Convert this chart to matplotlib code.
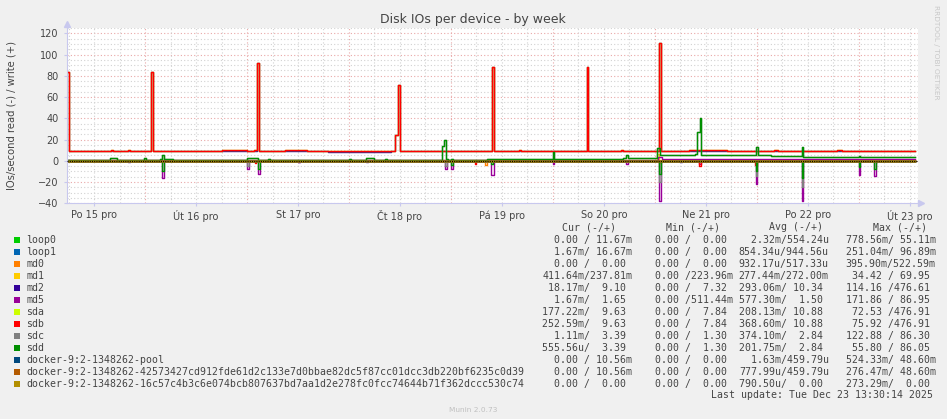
import matplotlib
matplotlib.use('Agg')
import matplotlib.pyplot as plt
from matplotlib.patches import Rectangle

# time axis in hours from Mon 15 Dec 00:00
T0 = -6.4
T_END = 193.4

day_labels = ["Po 15 pro", "Út 16 pro", "St 17 pro", "Čt 18 pro", "Pá 19 pro",
              "So 20 pro", "Ne 21 pro", "Po 22 pro", "Út 23 pro"]
y_ticks = [-40, -20, 0, 20, 40, 60, 80, 100, 120]

# (hour, value) break points, step lines; reads are drawn below zero
zero = [(T0, 0.0)]

md0_read = [(T0, 0), (92.0, 4), (92.4, 0)]

md1_write = [(T0, 0.3), (108.0, 1.5), (108.4, 0.3), (132.6, 6), (133.0, 0.8)]
md1_read = [(T0, 0), (133.0, 2), (133.4, 0)]

md2_write = [(T0, 84), (-5.9, 9.2), (13.4, 84), (13.9, 9.2), (38.4, 92), (38.8, 9.2),
             (55.0, 8.6), (70.0, 8.8), (70.9, 24), (71.6, 71), (72.1, 9.0),
             (93.6, 88), (94.1, 9.2), (116.0, 88), (116.4, 9.2), (133.1, 111),
             (133.5, 9.2), (150.0, 8.9), (152.0, 9.2), (172.0, 8.9), (174.0, 9.2)]
md2_read = [(T0, 0), (8.0, 1), (8.4, 0), (48.0, 1), (48.4, 0), (64.0, 1), (64.4, 0),
            (138.0, 1), (138.4, 0), (184.0, 1), (184.4, 0)]

md5_write = [(T0, 0.7), (132.8, 4), (133.6, 1.8)]
md5_read = [(T0, 0), (16.0, 16), (16.5, 0), (36.0, 8), (36.4, 0), (38.6, 12), (39.0, 0),
            (48.0, 1), (48.5, 0), (82.6, 8), (83.0, 0), (84.0, 8), (84.4, 0),
            (93.4, 13), (94.2, 0), (108.0, 3), (108.4, 0), (125.2, 3), (125.8, 0),
            (133.1, 38), (133.5, 0), (142.4, 3), (142.9, 0), (155.8, 22), (156.2, 0),
            (166.6, 38), (167.0, 0), (180.0, 13), (180.4, 0), (183.6, 14), (184.0, 0)]

sdb_write = [(T0, 84), (-5.9, 9.3), (4.0, 9.9), (4.5, 9.3), (8.0, 9.9), (8.5, 9.3),
             (13.4, 84), (13.9, 9.5), (30.0, 9.9), (36.0, 9.5), (37.6, 10.2),
             (38.4, 92), (38.8, 9.5), (45.0, 10.0), (50.0, 9.5), (56.0, 9.0),
             (70.9, 24), (71.6, 71), (72.1, 9.2), (76.0, 9.6), (84.0, 9.2), (88.0, 9.6),
             (93.6, 88), (94.1, 9.4), (100.0, 9.9), (100.5, 9.4), (116.0, 88),
             (116.4, 9.4), (124.0, 9.9), (124.5, 9.4), (133.1, 111), (133.5, 9.6),
             (140.0, 9.9), (148.0, 10.3), (149.0, 9.6), (160.0, 10.0), (161.0, 9.6),
             (175.0, 9.9), (176.0, 9.6)]
sdb_read = [(T0, 0), (37.8, 2), (38.2, 0), (89.6, 3), (90.0, 0), (142.4, 5), (142.9, 0),
            (155.6, 4), (156.0, 0)]

sdd_write = [(T0, 1.0), (3.8, 2.2), (5.4, 1.0), (11.8, 2.2), (12.2, 1.0), (15.6, 2.0),
             (16.0, 5), (16.5, 2.0), (18.6, 1.0), (36.0, 2.2), (38.5, 1.0), (41.0, 2.0),
             (41.4, 1.0), (60.0, 2.0), (60.4, 1.0), (64.0, 2.2), (65.8, 1.0), (68.6, 2.0),
             (69.0, 1.0), (82.0, 14), (82.4, 20), (82.8, 2.0), (83.4, 1.0), (84.0, 2.0),
             (84.6, 1.0), (92.5, 2.0), (108.0, 8), (108.4, 2.0), (124.6, 3.0),
             (125.2, 5), (125.8, 3.0), (128.0, 2.8), (132.6, 12), (133.2, 5.5),
             (141.6, 6.5), (142.0, 27), (142.6, 40), (143.0, 5.2), (155.8, 13),
             (156.3, 5.2), (159.5, 4.4), (166.6, 13), (167.0, 4.0), (180.0, 4.6),
             (180.4, 4.0)]
sdd_read = [(T0, 0), (16.0, 10), (16.5, 0), (38.6, 8), (39.0, 0), (84.0, 4), (84.4, 0),
            (93.4, 3), (93.8, 0), (133.1, 12), (133.5, 0), (155.8, 10), (156.2, 0),
            (166.6, 16), (167.0, 0), (180.0, 6), (180.4, 0), (183.6, 8), (184.0, 0)]

sdc_read = [(T0, 0), (36.0, 5), (36.4, 0), (82.6, 5), (83.0, 0), (133.1, 20), (133.5, 0),
            (155.8, 14), (156.2, 0), (166.6, 25), (167.0, 0)]

# legend
names = ["loop0", "loop1", "md0", "md1", "md2", "md5", "sda", "sdb", "sdc", "sdd",
         "docker-9:2-1348262-pool",
         "docker-9:2-1348262-42573427cd912fde61d2c133e7d0bbae82dc5f87cc01dcc3db220bf6235c0d39",
         "docker-9:2-1348262-16c57c4b3c6e074bcb807637bd7aa1d2e278fc0fcc74644b71f362dccc530c74"]
colors = ["#00CC00", "#0066B3", "#FF8000", "#FFCC00", "#330099", "#990099", "#CCFF00",
          "#FF0000", "#808080", "#008F00", "#00487D", "#B35A00", "#B38F00"]
cur = ["  0.00 / 11.67m", "  1.67m/ 16.67m", "  0.00 /  0.00 ", "411.64m/237.81m",
       " 18.17m/  9.10 ", "  1.67m/  1.65 ", "177.22m/  9.63 ", "252.59m/  9.63 ",
       "  1.11m/  3.39 ", "555.56u/  3.39 ", "  0.00 / 10.56m", "  0.00 / 10.56m",
       "  0.00 /  0.00 "]
mins = ["  0.00 /  0.00 ", "  0.00 /  0.00 ", "  0.00 /  0.00 ", "  0.00 /223.96m",
        "  0.00 /  7.32 ", "  0.00 /511.44m", "  0.00 /  7.84 ", "  0.00 /  7.84 ",
        "  0.00 /  1.30 ", "  0.00 /  1.30 ", "  0.00 /  0.00 ", "  0.00 /  0.00 ",
        "  0.00 /  0.00 "]
avgs = ["  2.32m/554.24u", "854.34u/944.56u", "932.17u/517.33u", "277.44m/272.00m",
        "293.06m/ 10.34 ", "577.30m/  1.50 ", "208.13m/ 10.88 ", "368.60m/ 10.88 ",
        "374.10m/  2.84 ", "201.75m/  2.84 ", "  1.63m/459.79u", "777.99u/459.79u",
        "790.50u/  0.00 "]
maxs = ["778.56m/ 55.11m", "251.04m/ 96.89m", "395.90m/522.59m", " 34.42 / 69.95 ",
        "114.16 /476.61 ", "171.86 / 86.95 ", " 72.53 /476.91 ", " 75.92 /476.91 ",
        "122.88 / 86.30 ", " 55.80 / 86.05 ", "524.33m/ 48.60m", "276.47m/ 48.60m",
        "273.29m/  0.00 "]

# drawing order as munin: (write, read) per field
series = [
    (zero, zero), (zero, zero), (zero, md0_read), (md1_write, md1_read),
    (md2_write, md2_read), (md5_write, md5_read), (sdb_write, zero),
    (sdb_write, sdb_read), (sdd_write, sdc_read), (sdd_write, sdd_read),
    (zero, zero), (zero, zero), (zero, zero),
]

W, H = 947, 419
fig = plt.figure(figsize=(W / 100, H / 100), dpi=100, facecolor='#F0F0F0')


def fx(x):
    return x / W


def fy(y):
    return 1 - y / H


ax = fig.add_axes([fx(67), fy(203.3), (918 - 67) / W, (203.3 - 28) / H])
ax.set_facecolor('white')
ax.set_xlim(T0, T_END + 0.6)
ax.set_ylim(-40, 125)

# grid
for v in range(-40, 126, 5):
    if v % 20 == 0:
        ax.axhline(v, color='#e9a8a8', lw=0.8, ls=(0, (1, 2)), zorder=0)
    else:
        ax.axhline(v, color='#d2d2d2', lw=0.8, ls=(0, (1, 2)), zorder=0)
for h in range(-6, 194, 6):
    if h % 24 == 12:
        ax.axvline(h, color='#e9a8a8', lw=0.8, ls=(0, (1, 2)), zorder=0)
    else:
        ax.axvline(h, color='#d2d2d2', lw=0.8, ls=(0, (1, 2)), zorder=0)


def step(pts, color, sign):
    t = [p[0] for p in pts] + [T_END]
    v = [sign * p[1] for p in pts] + [sign * pts[-1][1]]
    ax.plot(t, v, drawstyle='steps-post', color=color, lw=1.0, zorder=2)


for (wr, rd), c in zip(series, colors):
    step(rd, c, -1)
    step(wr, c, 1)

ax.axhline(0, color='black', lw=0.8, ls=(0, (1, 1)), zorder=3)

ax.set_xticks([24 * i for i in range(len(day_labels))])
ax.set_xticklabels(day_labels)
ax.set_yticks(y_ticks)
ax.tick_params(axis='both', length=2, color='#c8c8ee', labelsize=7, labelcolor='#444444')
ax.tick_params(axis='y', pad=4)
ax.tick_params(axis='x', pad=3)
for s in ['top', 'right']:
    ax.spines[s].set_visible(False)
for s in ['left', 'bottom']:
    ax.spines[s].set_color('#c8c8ee')
ax.plot([0], [1.02], marker='^', ms=5, color='#c8c8ee', transform=ax.transAxes, clip_on=False)
ax.plot([1.004], [0], marker='>', ms=5, color='#c8c8ee', transform=ax.transAxes, clip_on=False)

fig.text(fx(473), fy(19), "Disk IOs per device - by week", ha='center', va='center',
         fontsize=9, color='#444444')
fig.text(fx(12), fy(115), "IOs/second read (-) / write (+)", ha='center', va='center',
         rotation=90, fontsize=7.2, color='#444444')
fig.text(fx(936), fy(5), "RRDTOOL / TOBI OETIKER", ha='center', va='top',
         rotation=270, fontsize=5.3, color='#c8c8c8')
fig.text(fx(473), fy(410), "Munin 2.0.73", ha='center', va='center',
         fontsize=5.3, color='#c0c0c0')

mono = dict(family='DejaVu Sans Mono', fontsize=7.15, color='#444444', va='center')
hdr_y = 227
fig.text(fx(562.3), fy(hdr_y), "Cur (-/+)", **mono)
fig.text(fx(666), fy(hdr_y), "Min (-/+)", **mono)
fig.text(fx(769), fy(hdr_y), "Avg (-/+)", **mono)
fig.text(fx(872.7), fy(hdr_y), "Max (-/+)", **mono)

for i, name in enumerate(names):
    y = 239.7 + 12 * i
    fig.add_artist(Rectangle((fx(14), fy(y + 3)), 6 / W, 6 / H, transform=fig.transFigure,
                             facecolor=colors[i], edgecolor='none'))
    fig.text(fx(26), fy(y), name, **mono)
    fig.text(fx(542.3), fy(y), cur[i], **mono)
    fig.text(fx(643.4), fy(y), mins[i], **mono)
    fig.text(fx(738.8), fy(y), avgs[i], **mono)
    fig.text(fx(845.7), fy(y), maxs[i], **mono)

fig.text(fx(933), fy(394.5), "Last update: Tue Dec 23 13:30:14 2025", ha='right', **{k: v for k, v in mono.items()})

fig.savefig('out.png', dpi=100, facecolor=fig.get_facecolor())
